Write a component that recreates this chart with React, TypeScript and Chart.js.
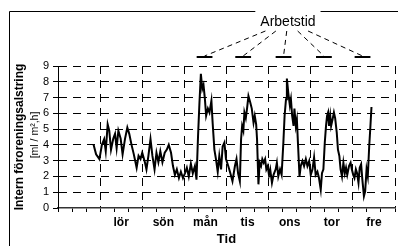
import React, { useEffect, useRef } from 'react';
import { Chart, registerables } from 'chart.js';

Chart.register(...registerables);

// hours since Friday 00:00
const HOURS = [
  20.2, 21.7, 23.6, 25.0, 26.3, 27.2, 28.3, 29.2, 30.2, 31.5, 32.5, 33.4, 34.4, 35.7, 36.8, 38.2, 39.5, 40.6,
  41.9, 43.2, 44.8, 45.9, 47.0, 48.0, 49.5, 50.4, 51.5, 52.7, 53.8, 55.0, 56.1, 57.2, 58.3, 59.5, 60.8, 62.0,
  63.1, 64.4, 65.5, 66.6, 67.7, 68.9, 70.0, 71.2, 72.3, 73.4, 74.5, 75.7, 76.8, 78.0, 78.9, 79.8, 80.6, 81.4,
  82.2, 82.9, 83.7, 84.4, 85.4, 86.3, 87.4, 88.1, 89.1, 90.0, 91.0, 91.9, 92.9, 93.8, 94.8, 95.7, 97.0, 98.2,
  99.4, 100.8, 101.7, 102.6, 103.6, 104.3, 104.9, 105.6, 106.2, 107.0, 107.7, 108.5, 109.5, 110.4, 111.4, 112.1,
  112.9, 113.4, 114.2, 114.9, 115.7, 116.4, 117.2, 118.0, 118.7, 119.5, 120.2, 120.9, 121.9, 122.8, 124.0, 124.7,
  125.5, 126.5, 127.4, 128.4, 129.1, 129.9, 130.4, 131.2, 132.1, 132.7, 133.4, 134.2, 134.7, 135.5, 136.1, 136.8,
  137.6, 138.3, 139.3, 140.2, 141.2, 142.1, 143.1, 144.0, 145.0, 145.9, 146.8, 147.8, 148.7, 149.7, 150.4, 151.2,
  152.0, 152.7, 153.3, 153.9, 154.4, 155.1, 155.6, 156.4, 157.2, 157.9, 158.8, 159.5, 160.3, 161.0, 161.8, 162.6,
  163.4, 164.1, 164.8, 165.8, 166.7, 167.4, 168.2, 168.9, 169.7, 170.4, 171.2, 171.9, 172.7, 173.4, 174.3, 175.0,
  175.8, 176.5, 177.3, 178.0, 178.6,
];

const VALUES = [
  4.04, 3.4, 3.1, 4.0, 4.36, 3.6, 5.3, 4.9, 3.7, 4.4, 4.7, 3.8, 4.9, 4.4, 3.4, 4.4, 5.1, 4.7,
  4.0, 3.4, 2.55, 3.3, 3.1, 3.5, 2.9, 2.45, 3.3, 4.36, 3.3, 2.45, 3.5, 2.9, 3.6, 2.9, 3.5, 3.7,
  4.0, 3.5, 2.66, 2.1, 2.45, 1.9, 2.3, 1.9, 2.2, 2.55, 2.0, 2.8, 2.2, 2.66, 1.8, 4.6, 6.7, 8.5,
  7.55, 7.8, 6.9, 5.85, 6.3, 6.05, 6.8, 5.4, 3.7, 3.1, 2.3, 3.3, 2.45, 3.9, 4.15, 3.1, 2.66, 2.2,
  1.7, 2.66, 3.1, 2.2, 1.7, 4.36, 5.2, 4.9, 6.06, 5.7, 6.3, 7.1, 6.7, 6.3, 5.4, 5.85,
  5.3, 4.36, 1.5, 2.87, 2.66, 3.1, 2.87, 3.1, 2.45, 2.66, 2.1, 2.45, 1.6, 2.1, 2.45, 2.87,
  2.0, 2.45, 2.1, 4.15, 5.85, 6.9, 8.2, 7.3, 6.5, 6.9, 5.85, 5.2, 6.3, 5.2, 5.6, 3.9,
  2.0, 2.66, 2.98, 2.66, 3.1, 2.66, 2.98, 2.1, 2.45, 3.2, 2.1, 2.3, 1.9, 1.17, 2.2, 2.45,
  4.15, 5.2, 5.85, 6.06, 5.2, 5.85, 5.2, 5.6, 6.06, 5.7, 4.8, 3.7, 3.3, 2.45, 2.0, 2.87,
  2.2, 2.55, 2.1, 2.66, 2.87, 2.45, 2.1, 1.9, 2.45, 2.2, 1.6, 2.55, 2.77, 1.8, 0.75, 1.06,
  2.45, 2.0, 3.9, 5.2, 6.4,
];

const DAY_LABELS = ['', 'lör', 'sön', 'mån', 'tis', 'ons', 'tor', 'fre'];
const X_MAX = 192;
const Y_MAX = 9;
const WORK_START = [79, 101, 124, 147, 169];
const WORK_LENGTH = 9;
const ANNOT_HOUR = 131;
const ANNOT_LABEL = 'Arbetstid';
const X_TITLE = 'Tid';
const Y_TITLE = 'Intern föroreningsalstring';
const Y_UNIT = '[ml / m²,h]';

const FONT = '"Liberation Sans", Arial, sans-serif';

const decorPlugin = {
  id: 'decor',
  afterDraw(chart: any) {
    const ctx = chart.ctx as CanvasRenderingContext2D;
    const area = chart.chartArea;
    const xs = chart.scales.x;
    ctx.save();
    // label "Arbetstid"
    ctx.font = `14px ${FONT}`;
    const lx = xs.getPixelForValue(ANNOT_HOUR);
    const ly = area.top - 44;
    const tw = ctx.measureText(ANNOT_LABEL).width;
    ctx.fillStyle = '#000';
    ctx.textAlign = 'center';
    ctx.textBaseline = 'middle';
    ctx.fillText(ANNOT_LABEL, lx, ly);

    // frame (left + top with gap behind label)
    ctx.strokeStyle = '#000';
    ctx.lineWidth = 1;
    ctx.setLineDash([]);
    ctx.beginPath();
    ctx.moveTo(9.5, chart.height);
    ctx.lineTo(9.5, 11.5);
    ctx.lineTo(lx - tw / 2 - 5, 11.5);
    ctx.moveTo(lx + tw / 2 + 5, 11.5);
    ctx.lineTo(chart.width, 11.5);
    ctx.stroke();

    // work-time bars and connectors
    const segY = area.top - 9;
    WORK_START.forEach((s) => {
      const x0 = xs.getPixelForValue(s);
      const x1 = xs.getPixelForValue(s + WORK_LENGTH);
      const cx = (x0 + x1) / 2;
      ctx.setLineDash([]);
      ctx.lineWidth = 2;
      ctx.beginPath();
      ctx.moveTo(x0, segY);
      ctx.lineTo(x1, segY);
      ctx.stroke();
      ctx.setLineDash([5, 4]);
      ctx.lineWidth = 1;
      ctx.beginPath();
      ctx.moveTo(lx + (cx - lx) * 0.27, area.top - 35);
      ctx.lineTo(cx, segY - 1);
      ctx.stroke();
    });

    // y axis titles
    ctx.setLineDash([]);
    const cy = (area.top + area.bottom) / 2;
    ctx.save();
    ctx.translate(area.left - 38, cy);
    ctx.rotate(-Math.PI / 2);
    ctx.font = `bold 12px ${FONT}`;
    ctx.fillText(Y_TITLE, 0, 0);
    ctx.restore();
    ctx.save();
    ctx.translate(area.left - 23, cy - 2);
    ctx.rotate(-Math.PI / 2);
    ctx.font = `10.5px ${FONT}`;
    ctx.fillText(Y_UNIT, 0, 0);
    ctx.restore();
    ctx.restore();
  },
};

export default function App() {
  const ref = useRef<HTMLCanvasElement | null>(null);
  useEffect(() => {
    if (!ref.current) return;
    const chart = new Chart(ref.current, {
      type: 'line',
      data: {
        datasets: [
          {
            data: HOURS.map((h, i) => ({ x: h, y: VALUES[i] })),
            borderColor: '#000',
            borderWidth: 2,
            pointRadius: 0,
            tension: 0,
            fill: false,
          },
        ],
      },
      options: {
        animation: false,
        responsive: false,
        devicePixelRatio: 1,
        layout: { padding: { top: 66, right: 1, left: 0, bottom: 0 } },
        plugins: { legend: { display: false }, tooltip: { enabled: false }, title: { display: false } },
        scales: {
          x: {
            type: 'linear',
            min: 0,
            max: X_MAX,
            afterBuildTicks: (scale: any) => {
              const t = [];
              for (let v = 0; v <= X_MAX; v += 4) t.push({ value: v });
              scale.ticks = t;
            },
            afterFit: (scale: any) => {
              scale.height = 38;
            },
            ticks: {
              autoSkip: false,
              maxRotation: 0,
              padding: 3,
              color: '#000',
              font: { family: FONT, size: 12, weight: 'bold' },
              callback: (v: any) => (v % 24 === 12 ? DAY_LABELS[(v - 12) / 24] : ''),
            },
            grid: {
              color: (c: any) => (c.tick && c.tick.value % 24 === 0 && c.tick.value > 0 ? '#000' : 'rgba(0,0,0,0)'),
              tickColor: (c: any) => (c.tick && c.tick.value % 8 === 0 ? '#000' : 'rgba(0,0,0,0)'),
              tickLength: 4,
              lineWidth: 1,
            },
            border: { display: true, color: '#333', width: 1.5, dash: [8, 6] },
            title: {
              display: true,
              text: X_TITLE,
              color: '#000',
              font: { family: FONT, size: 13, weight: 'bold', lineHeight: 1 },
              padding: { top: 0, bottom: 0 },
            },
          },
          y: {
            min: 0,
            max: Y_MAX,
            afterFit: (scale: any) => {
              scale.width = 58;
            },
            ticks: {
              stepSize: 1,
              autoSkip: false,
              padding: 4,
              color: '#000',
              font: { family: FONT, size: 11 },
            },
            grid: {
              color: (c: any) => (c.tick && c.tick.value > 0 ? '#000' : 'rgba(0,0,0,0)'),
              tickColor: '#000',
              tickLength: 5,
              lineWidth: 1,
            },
            border: { display: true, color: '#000', width: 1, dash: [8, 6] },
          },
        },
      },
      plugins: [decorPlugin],
    } as any);
    return () => chart.destroy();
  }, []);
  return (
    <div style={{ position: 'absolute', left: 0, top: 0, width: 398, height: 246, background: '#fff' }}>
      <canvas ref={ref} width={398} height={246} />
    </div>
  );
}
